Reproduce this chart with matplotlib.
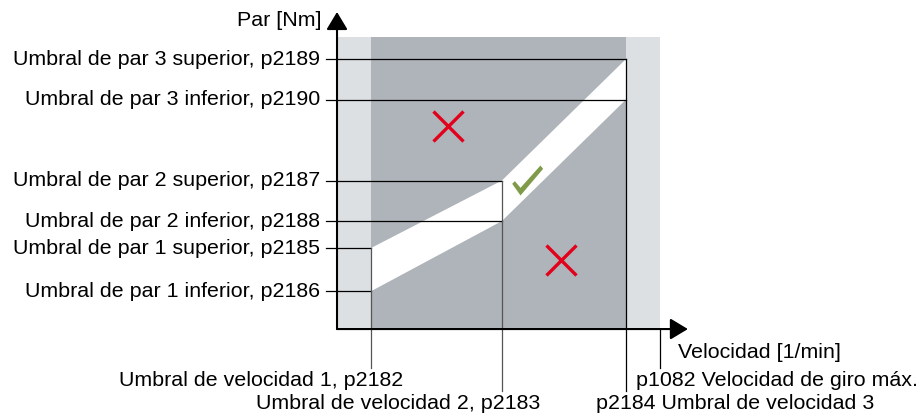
import matplotlib
matplotlib.use("Agg")
import matplotlib.pyplot as plt
from matplotlib.path import Path

plt.rcParams['font.family'] = ['Liberation Sans', 'DejaVu Sans']

# speed thresholds [1/min]
speed_names = ["p2182", "p2183", "p2184"]
speed_thr = [100, 485, 850]
speed_max = 950          # p1082

# torque thresholds [Nm]: (lower, upper) for band 1..3
torque_lower = [14, 40, 85]    # p2186, p2188, p2190
torque_upper = [30, 55, 100]   # p2185, p2187, p2189
torque_top = 108

torque_labels = [
    ("Umbral de par 1 inferior, p2186", 14, 0),
    ("Umbral de par 1 superior, p2185", 30, 0),
    ("Umbral de par 2 inferior, p2188", 40, 1),
    ("Umbral de par 2 superior, p2187", 55, 1),
    ("Umbral de par 3 inferior, p2190", 85, 2),
    ("Umbral de par 3 superior, p2189", 100, 2),
]

speed_labels = [
    ("Umbral de velocidad 1, p2182", 194, -18.9, "right"),
    ("Umbral de velocidad 2, p2183", 597, -27.4, "right"),
    ("p2184 Umbral de velocidad 3", 762, -27.4, "left"),
    ("p1082 Velocidad de giro máx.", 879, -18.9, "left"),
]
speed_line_ends = [-14.4, -23, -23, -14.4]

forbidden_pts = [(326, 75.2), (659, 25.6)]
ok_pt = (560, 55.2)

light_gray = "#dce0e3"
dark_gray = "#aeb4b9"
red = "#e2001a"
green = "#7f9a48"
fs = 15.4

fig = plt.figure(figsize=(9.23, 4.16), dpi=100)
ax = fig.add_axes([0, 0, 1, 1])
ax.set_xlim(-991.2, 1723.5)
ax.set_ylim(-32.2, 121.85)
ax.axis("off")

# background zones
ax.fill_between([0, speed_max], 0, torque_top, color=light_gray, lw=0, zorder=1)
ax.fill_between([speed_thr[0], speed_thr[2]], 0, torque_top, color=dark_gray, lw=0, zorder=2)

# allowed band
band_x = speed_thr + speed_thr[::-1]
band_y = torque_upper + torque_lower[::-1]
ax.fill(band_x, band_y, color="white", lw=0, zorder=3)

# horizontal threshold lines + labels
for text, tq, idx in torque_labels:
    ax.plot([-32, speed_thr[idx]], [tq, tq], color="black", lw=0.9, zorder=4)
    ax.text(-50, tq, text, ha="right", va="center", fontsize=fs)

# vertical speed lines
vx = speed_thr + [speed_max]
vtop = [torque_upper[0], torque_upper[1], torque_upper[2], 0]
vcol = ["#555555", "#555555", "black", "black"]
for x, top, bot, c in zip(vx, vtop, speed_line_ends, vcol):
    ax.plot([x, x], [bot, top], color=c, lw=0.9, zorder=4)

for text, x, y, ha in speed_labels:
    ax.text(x, y, text, ha=ha, va="center", fontsize=fs)

# axes with arrows
arrow = dict(arrowstyle="-|>,head_length=1.08,head_width=0.65", color="black",
             lw=1.5, shrinkA=0, shrinkB=0, mutation_scale=10)
ax.annotate("", xy=(0, 117.4), xytext=(0, 0), arrowprops=arrow, zorder=5)
ax.annotate("", xy=(1032, 0), xytext=(0, 0), arrowprops=arrow, zorder=5)
ax.text(-45, 114.4, "Par [Nm]", ha="right", va="center", fontsize=fs)
ax.text(1003, -8.5, "Velocidad [1/min]", ha="left", va="center", fontsize=fs)

# markers
for x, y in forbidden_pts:
    ax.plot(x, y, marker="x", ms=22, mew=2.4, color=red, zorder=6)
check = Path([(-46, -10), (-38, -2), (-21, -22), (39, 45), (47, 35), (-21, -45), (-46, -10)],
             [Path.MOVETO] + [Path.LINETO] * 5 + [Path.CLOSEPOLY])
ax.plot(*ok_pt, marker=check, ms=22.5, color=green, mew=0, zorder=6)

fig.savefig("out.png", dpi=100)
